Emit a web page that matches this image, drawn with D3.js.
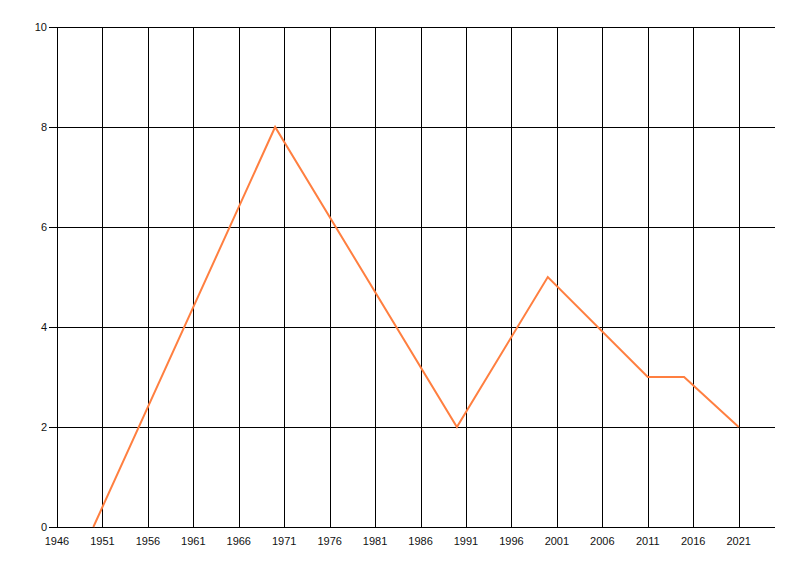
<!DOCTYPE html>
<html><head><meta charset="utf-8">
<script src="https://cdn.jsdelivr.net/npm/d3@7"></script>
<style>body{margin:0;background:#fff}svg{display:block}</style>
</head><body>
<script>
const years = [1950, 1970, 1990, 2000, 2011, 2015, 2021];
const values = [0, 8, 2, 5, 3, 3, 2];
const xTicks = [1946, 1951, 1956, 1961, 1966, 1971, 1976, 1981, 1986, 1991, 1996, 2001, 2006, 2011, 2016, 2021];
const yTicks = [0, 2, 4, 6, 8, 10];

const W = 800, H = 576;
const svg = d3.select("body").append("svg").attr("width", W).attr("height", H);
const x = d3.scaleLinear().domain([1946, 2025]).range([57, 775]);
const y = d3.scaleLinear().domain([0, 10]).range([527, 27]);
const font = "'Liberation Sans', Arial, sans-serif";

// vertical grid
svg.append("g").selectAll("line").data(xTicks).join("line")
  .attr("x1", d => Math.round(x(d)) + 0.5).attr("x2", d => Math.round(x(d)) + 0.5)
  .attr("y1", y(10)).attr("y2", y(0))
  .attr("stroke", "#000").attr("stroke-width", 1);
// horizontal grid
svg.append("g").selectAll("line").data(yTicks).join("line")
  .attr("y1", d => Math.round(y(d)) + 0.5).attr("y2", d => Math.round(y(d)) + 0.5)
  .attr("x1", x(1946) - 8).attr("x2", x(2025))
  .attr("stroke", "#000").attr("stroke-width", 1);

// y labels
svg.append("g").selectAll("text").data(yTicks).join("text")
  .attr("x", 47).attr("y", d => y(d) + 4)
  .attr("text-anchor", "end").attr("font-family", font).attr("font-size", 11)
  .attr("fill", "#111").text(d => d);
// x labels
svg.append("g").selectAll("text").data(xTicks).join("text")
  .attr("x", d => x(d)).attr("y", 545)
  .attr("text-anchor", "middle").attr("font-family", font).attr("font-size", 11)
  .attr("fill", "#111").text(d => d);

// line
const line = d3.line().x((d, i) => x(years[i])).y(d => y(d));
svg.append("path").datum(values).attr("d", line)
  .attr("fill", "none").attr("stroke", "#FF7F40").attr("stroke-width", 2)
  .attr("stroke-linejoin", "miter");
</script>
</body></html>
